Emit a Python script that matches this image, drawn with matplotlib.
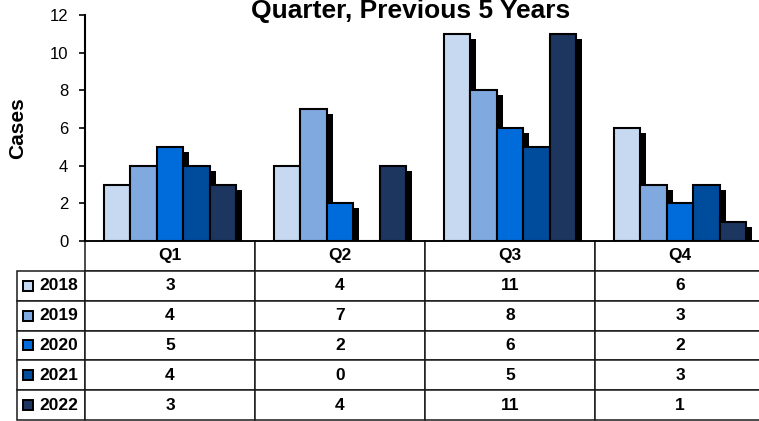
import numpy as np
import matplotlib
matplotlib.use('Agg')
import matplotlib.pyplot as plt
from matplotlib.table import Table

plt.rcParams['font.family'] = ['Liberation Sans', 'DejaVu Sans']

# Дані: випадки по кварталах за останні 5 років
quarters = ['Q1', 'Q2', 'Q3', 'Q4']
years = ['2018', '2019', '2020', '2021', '2022']
cases_2018 = [3, 4, 11, 6]
cases_2019 = [4, 7, 8, 3]
cases_2020 = [5, 2, 6, 2]
cases_2021 = [4, 0, 5, 3]
cases_2022 = [3, 4, 11, 1]
series = [cases_2018, cases_2019, cases_2020, cases_2021, cases_2022]
colors = ['#C6D9F1', '#7FA9DF', '#006CDC', '#004C9C', '#1C3660']

W, H = 759, 421
fig = plt.figure(figsize=(W / 100, H / 100), dpi=100)
# Область графіка в пікселях: x 85..765, y 15..241
ax = fig.add_axes([85 / W, 1 - 241 / H, 680 / W, 226 / H])

x = np.arange(len(quarters))
bw = 0.155
dx = 6 / 680 * 4          # зсув тіні праворуч (6 px)
dy = 5 / 226 * 12         # зсув тіні вниз (5 px)
for i, (vals, col) in enumerate(zip(series, colors)):
    pos = x + (i - 2) * bw
    vals = np.array(vals, dtype=float)
    shadow = np.where(vals > 0, vals - dy, 0)
    ax.bar(pos + dx, shadow, width=bw, color='black', linewidth=0, zorder=1)
for i, (vals, col) in enumerate(zip(series, colors)):
    pos = x + (i - 2) * bw
    ax.bar(pos, vals, width=bw, color=col, edgecolor='black', linewidth=1.5, zorder=2)

ax.set_xlim(-0.5, len(quarters) - 0.5)
ax.set_ylim(0, 12)
ax.set_yticks(range(0, 13, 2))
ax.tick_params(axis='y', labelsize=12, length=4, width=1.2, pad=8, direction='out')
ax.set_xticks([])
for s in ['top', 'right']:
    ax.spines[s].set_visible(False)
ax.spines['left'].set_linewidth(1.5)
ax.spines['bottom'].set_linewidth(1.2)
ax.set_ylabel('Cases', fontsize=15, fontweight='bold', labelpad=16)

# Заголовок у оригіналі теж обрізаний зверху
fig.text(411 / W, 1 - 18 / H, 'Quarter, Previous 5 Years', fontsize=19,
         fontweight='bold', ha='center', va='baseline')

# Таблиця даних під графіком
col_w = [68] + [170] * 4
n_rows = len(years) + 1
tbl = Table(ax, bbox=[-68 / 680, -179 / 226, 748 / 680, 179 / 226])
for r in range(n_rows):
    for c in range(len(col_w)):
        if r == 0:
            txt = '' if c == 0 else quarters[c - 1]
        else:
            txt = years[r - 1] if c == 0 else str(series[r - 1][c - 1])
        cell = tbl.add_cell(r, c, width=col_w[c], height=1, text=txt,
                            loc='right' if c == 0 else 'center',
                            edgecolor='#1a1a1a', facecolor='white')
        cell.set_linewidth(1.1)
        cell.get_text().set_fontsize(12.5)
        cell.get_text().set_fontweight('bold')
        if r == 0 and c == 0:
            cell.visible_edges = ''
tbl.auto_set_font_size(False)
ax.add_table(tbl)

# Квадратики-легенди біля років
row_h = 179 / n_rows
for i, col in enumerate(colors):
    ypx = 241 + (i + 1.5) * row_h
    ax.plot([(28 - 85) / 680], [(241 - ypx) / 226], marker='s', markersize=7,
            markerfacecolor=col, markeredgecolor='black', markeredgewidth=1.4,
            transform=ax.transAxes, clip_on=False, zorder=5)

fig.savefig('out.png', dpi=100)
